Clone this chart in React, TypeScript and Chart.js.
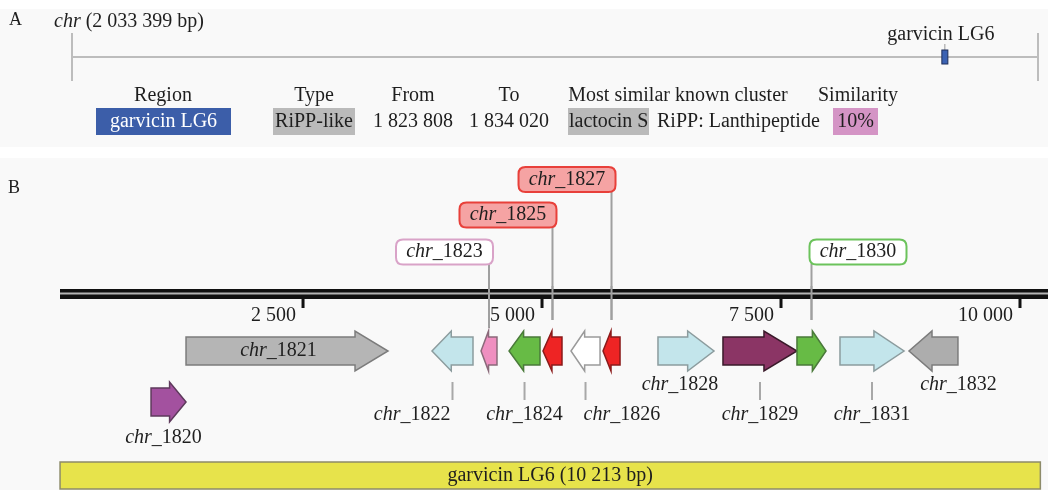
import React, { useEffect, useRef } from 'react';
import { Chart, registerables } from 'chart.js';

Chart.register(...registerables);

// ---------------- data ----------------
const chromosomeName = 'chr';
const chromosomeLength = 2033399;
const regionName = 'garvicin LG6';
const regionType = 'RiPP-like';
const regionFrom = 1823808;
const regionTo = 1834020;
const similarClusterName = 'lactocin S';
const similarClusterType = 'RiPP: Lanthipeptide';
const similarityPercent = 10;
const tableHeaders = ['Region', 'Type', 'From', 'To', 'Most similar known cluster', 'Similarity'];

const geneNames = ['chr_1820', 'chr_1821', 'chr_1822', 'chr_1823', 'chr_1824', 'chr_1825', 'chr_1826', 'chr_1827', 'chr_1828', 'chr_1829', 'chr_1830', 'chr_1831', 'chr_1832'];
const geneStarts = [910, 1276, 3849, 4362, 4655, 5010, 5303, 5638, 6213, 6893, 7667, 8117, 8839];
const geneEnds = [1276, 3389, 4278, 4529, 4979, 5209, 5607, 5816, 6799, 7667, 7971, 8787, 9351];
const geneStrands = [1, 1, -1, -1, -1, -1, -1, -1, 1, 1, 1, 1, -1];
const axisTickValues = [2500, 5000, 7500, 10000];
const axisTickLabels = ['2 500', '5 000', '7 500', '10 000'];

// ---------------- styles / layout ----------------
const FONT = '"Liberation Serif", "Times New Roman", serif';
const TEXT = '#1e1e1e';
const geneFill = ['#a3519f', '#b5b5b5', '#c3e5eb', '#ef8fc0', '#67bb45', '#ee2424', '#ffffff', '#ee2424', '#c3e5eb', '#8b3565', '#67bb45', '#c3e5eb', '#adadad'];
const geneStroke = ['#5e3a5c', '#7c7c7c', '#8c9c9e', '#8a6a7a', '#4a7a3a', '#8a1a1a', '#9a9a9a', '#8a1a1a', '#8c9c9e', '#3a1a2a', '#4a7a3a', '#8c9c9e', '#7c7c7c'];
const geneRowY = [402, 351, 351, 351, 351, 351, 351, 351, 351, 351, 351, 351, 351];

type LabelSpec =
  | { kind: 'inside' }
  | { kind: 'under'; y: number; dx: number }
  | { kind: 'leader'; y: number; align: CanvasTextAlign; dx: number }
  | { kind: 'callout'; cy: number; side: 'left' | 'right'; bottom: number; fill: string; stroke: string };

const labelSpecs: LabelSpec[] = [
  { kind: 'under', y: 438, dx: -5 },
  { kind: 'inside' },
  { kind: 'leader', y: 415, align: 'right', dx: -2 },
  { kind: 'callout', cy: 252, side: 'left', bottom: 328, fill: '#ffffff', stroke: '#d9a3c8' },
  { kind: 'leader', y: 415, align: 'center', dx: 0 },
  { kind: 'callout', cy: 215, side: 'left', bottom: 320, fill: '#f5a3a3', stroke: '#e8403a' },
  { kind: 'leader', y: 415, align: 'left', dx: -2 },
  { kind: 'callout', cy: 179.5, side: 'left', bottom: 320, fill: '#f5a3a3', stroke: '#e8403a' },
  { kind: 'under', y: 385, dx: -6 },
  { kind: 'leader', y: 415, align: 'center', dx: 0 },
  { kind: 'callout', cy: 252, side: 'right', bottom: 320, fill: '#ffffff', stroke: '#6cc35c' },
  { kind: 'leader', y: 415, align: 'center', dx: 0 },
  { kind: 'under', y: 385, dx: 25 },
];

const fmt = (n: number) => String(n).replace(/\B(?=(\d{3})+(?!\d))/g, ' ');

function mixedText(ctx: CanvasRenderingContext2D, name: string, x: number, y: number, align: CanvasTextAlign, size = 20) {
  const idx = name.indexOf('_') >= 0 ? name.indexOf('_') : name.indexOf(' ');
  const a = idx >= 0 ? name.slice(0, idx) : name;
  const b = idx >= 0 ? name.slice(idx) : '';
  ctx.font = `italic ${size}px ${FONT}`;
  const wa = ctx.measureText(a).width;
  ctx.font = `${size}px ${FONT}`;
  const wb = ctx.measureText(b).width;
  const w = wa + wb;
  let x0 = x;
  if (align === 'center') x0 = x - w / 2;
  else if (align === 'right') x0 = x - w;
  ctx.textAlign = 'left';
  ctx.textBaseline = 'middle';
  ctx.fillStyle = TEXT;
  ctx.font = `italic ${size}px ${FONT}`;
  ctx.fillText(a, x0, y);
  ctx.font = `${size}px ${FONT}`;
  ctx.fillText(b, x0 + wa, y);
  return w;
}

function plainText(ctx: CanvasRenderingContext2D, s: string, x: number, y: number, align: CanvasTextAlign, color = TEXT, size = 20) {
  ctx.font = `${size}px ${FONT}`;
  ctx.textAlign = align;
  ctx.textBaseline = 'middle';
  ctx.fillStyle = color;
  ctx.fillText(s, x, y);
}

function roundRect(ctx: CanvasRenderingContext2D, x: number, y: number, w: number, h: number, r: number) {
  ctx.beginPath();
  ctx.moveTo(x + r, y);
  ctx.lineTo(x + w - r, y);
  ctx.quadraticCurveTo(x + w, y, x + w, y + r);
  ctx.lineTo(x + w, y + h - r);
  ctx.quadraticCurveTo(x + w, y + h, x + w - r, y + h);
  ctx.lineTo(x + r, y + h);
  ctx.quadraticCurveTo(x, y + h, x, y + h - r);
  ctx.lineTo(x, y + r);
  ctx.quadraticCurveTo(x, y, x + r, y);
  ctx.closePath();
}

const clusterPlugin = {
  id: 'clusterPlugin',
  afterDraw(chart: any) {
    const ctx: CanvasRenderingContext2D = chart.ctx;
    const xs = chart.scales.x;
    const ys = chart.scales.y;
    const X = (v: number) => xs.getPixelForValue(v);
    const Y = (v: number) => ys.getPixelForValue(v);
    ctx.save();

    // panel backgrounds
    ctx.fillStyle = '#f9f9f9';
    ctx.fillRect(0, Y(9), 1048, Y(147) - Y(9));
    ctx.fillRect(0, Y(158), 1048, Y(490) - Y(158));

    // ---------- Panel A ----------
    plainText(ctx, 'A', 9, Y(20), 'left', TEXT, 18);
    mixedText(ctx, `${chromosomeName} (${fmt(chromosomeLength)} bp)`, 54, Y(22), 'left');

    const lineL = 72, lineR = 1038, lineY = Y(57);
    ctx.strokeStyle = '#bdbdbd';
    ctx.lineWidth = 2;
    ctx.beginPath();
    ctx.moveTo(lineL, lineY); ctx.lineTo(lineR, lineY);
    ctx.moveTo(lineL, Y(33)); ctx.lineTo(lineL, Y(81));
    ctx.moveTo(lineR, Y(33)); ctx.lineTo(lineR, Y(81));
    ctx.stroke();

    const mid = (regionFrom + regionTo) / 2;
    const mx = lineL + (mid / chromosomeLength) * (lineR - lineL) + 4;
    ctx.strokeStyle = '#9a9a9a';
    ctx.lineWidth = 1;
    ctx.beginPath();
    ctx.moveTo(mx, Y(44)); ctx.lineTo(mx, Y(50));
    ctx.stroke();
    ctx.fillStyle = '#3b62b3';
    ctx.strokeStyle = '#1e2f5a';
    ctx.lineWidth = 1;
    ctx.fillRect(mx - 3, Y(50), 6, Y(64) - Y(50));
    ctx.strokeRect(mx - 3, Y(50), 6, Y(64) - Y(50));
    plainText(ctx, regionName, mx - 4, Y(35), 'center');

    // table
    const headerY = Y(96);
    const rowY = Y(122);
    const colX = [163, 314, 413, 509, 678, 858];
    tableHeaders.forEach((h, i) => plainText(ctx, h, colX[i], headerY, 'center'));

    ctx.fillStyle = '#3c5ea9';
    ctx.fillRect(96, Y(108), 135, Y(135) - Y(108));
    plainText(ctx, regionName, 163.5, rowY, 'center', '#ffffff');

    ctx.fillStyle = '#bababa';
    ctx.fillRect(273, Y(108), 82, Y(135) - Y(108));
    plainText(ctx, regionType, 314, rowY, 'center');

    plainText(ctx, fmt(regionFrom), 413, rowY, 'center');
    plainText(ctx, fmt(regionTo), 509, rowY, 'center');

    ctx.fillStyle = '#bababa';
    ctx.fillRect(568, Y(108), 81, Y(135) - Y(108));
    plainText(ctx, similarClusterName, 569, rowY, 'left');
    plainText(ctx, similarClusterType, 657, rowY, 'left');

    ctx.fillStyle = '#d494c5';
    ctx.fillRect(833, Y(108), 45, Y(135) - Y(108));
    plainText(ctx, `${similarityPercent}%`, 855.5, rowY, 'center');

    // ---------- Panel B ----------
    plainText(ctx, 'B', 8, Y(188), 'left', TEXT, 18);

    // callout leaders first (behind axis)
    geneNames.forEach((name, i) => {
      const spec = labelSpecs[i];
      if (spec.kind !== 'callout') return;
      const cx = X((geneStarts[i] + geneEnds[i]) / 2);
      ctx.strokeStyle = '#a0a0a0';
      ctx.lineWidth = 2;
      ctx.beginPath();
      ctx.moveTo(cx, Y(spec.cy + 12));
      ctx.lineTo(cx, Y(spec.bottom));
      ctx.stroke();
    });

    // genome axis
    const axL = 60;
    ctx.fillStyle = '#111111';
    ctx.fillRect(axL, Y(289), 1048 - axL, Y(299) - Y(289));
    ctx.fillStyle = '#b5b5b5';
    ctx.fillRect(axL, Y(292.5), 1048 - axL, 2);
    axisTickValues.forEach((v, i) => {
      const tx = X(v);
      ctx.fillStyle = '#111111';
      ctx.fillRect(tx - 1.5, Y(299), 3, Y(308) - Y(299));
      plainText(ctx, axisTickLabels[i], tx - 7, Y(316), 'right');
    });
    // redraw callout leaders crossing the axis (they sit on top in reference)
    geneNames.forEach((name, i) => {
      const spec = labelSpecs[i];
      if (spec.kind !== 'callout') return;
      const cx = X((geneStarts[i] + geneEnds[i]) / 2);
      ctx.strokeStyle = '#a0a0a0';
      ctx.lineWidth = 2;
      ctx.beginPath();
      ctx.moveTo(cx, Y(286));
      ctx.lineTo(cx, Y(spec.bottom));
      ctx.stroke();
    });

    // callout boxes
    geneNames.forEach((name, i) => {
      const spec = labelSpecs[i];
      if (spec.kind !== 'callout') return;
      const cx = X((geneStarts[i] + geneEnds[i]) / 2);
      ctx.font = `italic 20px ${FONT}`;
      const w = 97;
      const h = 25;
      const left = spec.side === 'left' ? cx + 4 - w : cx - 2;
      const top = Y(spec.cy) - h / 2;
      roundRect(ctx, left, top, w, h, 7);
      ctx.fillStyle = spec.fill;
      ctx.fill();
      ctx.strokeStyle = spec.stroke;
      ctx.lineWidth = 2;
      ctx.stroke();
      mixedText(ctx, name, left + w / 2, Y(spec.cy), 'center');
    });

    // gene arrows
    geneNames.forEach((name, i) => {
      const x1 = X(geneStarts[i]);
      const x2 = X(geneEnds[i]);
      const yc = Y(geneRowY[i]);
      const len = x2 - x1;
      const head = Math.min(len * 0.47, 33);
      const bh = 14, hh = 20;
      ctx.beginPath();
      if (geneStrands[i] > 0) {
        ctx.moveTo(x1, yc - bh);
        ctx.lineTo(x2 - head, yc - bh);
        ctx.lineTo(x2 - head, yc - hh);
        ctx.lineTo(x2, yc);
        ctx.lineTo(x2 - head, yc + hh);
        ctx.lineTo(x2 - head, yc + bh);
        ctx.lineTo(x1, yc + bh);
      } else {
        ctx.moveTo(x2, yc - bh);
        ctx.lineTo(x1 + head, yc - bh);
        ctx.lineTo(x1 + head, yc - hh);
        ctx.lineTo(x1, yc);
        ctx.lineTo(x1 + head, yc + hh);
        ctx.lineTo(x1 + head, yc + bh);
        ctx.lineTo(x2, yc + bh);
      }
      ctx.closePath();
      ctx.fillStyle = geneFill[i];
      ctx.fill();
      ctx.strokeStyle = geneStroke[i];
      ctx.lineWidth = 1.5;
      ctx.lineJoin = 'miter';
      ctx.stroke();
    });

    // gene labels
    geneNames.forEach((name, i) => {
      const spec = labelSpecs[i];
      const x1 = X(geneStarts[i]);
      const x2 = X(geneEnds[i]);
      const cx = (x1 + x2) / 2;
      if (spec.kind === 'inside') {
        const head = Math.min((x2 - x1) * 0.47, 33);
        const bodyMid = geneStrands[i] > 0 ? (x1 + x2 - head) / 2 : (x1 + head + x2) / 2;
        mixedText(ctx, name, bodyMid + 8, Y(geneRowY[i]), 'center');
      } else if (spec.kind === 'under') {
        mixedText(ctx, name, cx + spec.dx, Y(spec.y), 'center');
      } else if (spec.kind === 'leader') {
        ctx.strokeStyle = '#a8a8a8';
        ctx.lineWidth = 2;
        ctx.beginPath();
        ctx.moveTo(cx, Y(382));
        ctx.lineTo(cx, Y(400));
        ctx.stroke();
        mixedText(ctx, name, cx + spec.dx, Y(spec.y), spec.align);
      }
    });

    // region bar
    const bx1 = X(0) - 4;
    const bx2 = X(regionTo - regionFrom + 1);
    ctx.fillStyle = '#e7e34b';
    ctx.fillRect(bx1, Y(462), bx2 - bx1, Y(489) - Y(462));
    ctx.strokeStyle = '#8d8b6a';
    ctx.lineWidth = 1.5;
    ctx.strokeRect(bx1, Y(462), bx2 - bx1, Y(489) - Y(462));
    plainText(ctx, `${regionName} (${fmt(regionTo - regionFrom + 1)} bp)`, (bx1 + bx2) / 2, Y(476), 'center');

    ctx.restore();
  },
};

export default function App() {
  const ref = useRef<HTMLCanvasElement>(null);
  useEffect(() => {
    if (!ref.current) return;
    const chart = new Chart(ref.current, {
      type: 'scatter',
      data: {
        datasets: [
          {
            data: geneNames.map((_, i) => ({ x: (geneStarts[i] + geneEnds[i]) / 2, y: geneRowY[i] })),
            pointRadius: 0,
            showLine: false,
          },
        ],
      },
      options: {
        responsive: false,
        animation: false,
        events: [],
        layout: { padding: 0 },
        scales: {
          x: { type: 'linear', min: -670, max: 10293, display: false },
          y: { type: 'linear', min: 0, max: 490, reverse: true, display: false },
        },
        plugins: { legend: { display: false }, tooltip: { enabled: false } },
      },
      plugins: [clusterPlugin],
    } as any);
    return () => chart.destroy();
  }, []);
  return (
    <div style={{ position: 'absolute', left: 0, top: 0, width: 1048, height: 490, background: '#ffffff' }}>
      <canvas ref={ref} width={1048} height={490} />
    </div>
  );
}
